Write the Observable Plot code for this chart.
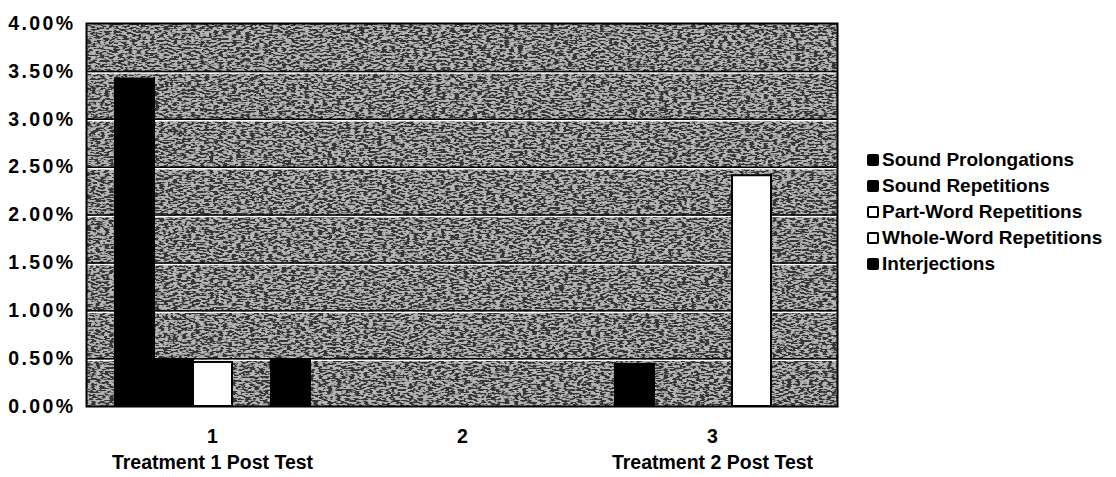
<!DOCTYPE html>
<html><head><meta charset="utf-8">
<script src="https://cdn.jsdelivr.net/npm/d3@7"></script>
<script src="https://cdn.jsdelivr.net/npm/@observablehq/plot@0.6"></script>
<style>
body{margin:0;background:#fff;font-family:"Liberation Sans",Arial,sans-serif;}
#wrap{position:relative;width:1116px;height:477px;}
#bg,#chart{position:absolute;left:0;top:0;}
#bg svg g[aria-label="y-axis tick label"] text{letter-spacing:2.4px;}
#legend{position:absolute;left:867px;top:147px;font-weight:bold;font-size:19px;color:#000;}
.row{display:flex;align-items:center;height:26px;white-space:nowrap;}
.sw{width:12px;height:12px;border:2px solid #000;border-radius:2px;margin-right:3px;box-sizing:border-box;}
</style></head><body><div id="wrap"><div id="bg"></div><div id="chart"></div><div id="legend"></div></div>
<script>
const groups = ["1", "2", "3"];
const groupNames = ["Treatment 1 Post Test", "", "Treatment 2 Post Test"];
const series = ["Sound Prolongations", "Sound Repetitions", "Part-Word Repetitions", "Whole-Word Repetitions", "Interjections"];
const soundProlongations = [0.0342, 0, 0.0044];
const soundRepetitions = [0.0049, 0, 0];
const partWordRepetitions = [0.0046, 0, 0];
const wholeWordRepetitions = [0, 0, 0.0241];
const interjections = [0.0049, 0, 0];
const seriesFill = ["#000000", "#000000", "#ffffff", "#ffffff", "#000000"];
const yTicks = [0, 0.005, 0.01, 0.015, 0.02, 0.025, 0.03, 0.035, 0.04];

const values = [soundProlongations, soundRepetitions, partWordRepetitions, wholeWordRepetitions, interjections];
const data = series.flatMap((s, si) => groups.map((g, gi) => ({group: g, series: s, value: values[si][gi]})));
const labels = groups.map((g, i) => ({group: g, name: groupNames[i]}));
const gridTicks = yTicks.filter(t => t > 0 && t < 0.04);

const common = {
  width: 850, height: 477,
  marginLeft: 86, marginRight: 13, marginTop: 23, marginBottom: 71,
  style: {fontFamily: "'Liberation Sans', Arial, sans-serif", fontWeight: "bold", fontSize: "19.5px", color: "#000", background: "transparent"}
};

// background: plot area, gridlines, y axis
const bg = Plot.plot({
  ...common,
  x: {domain: [0, 1], axis: null},
  y: {domain: [0, 0.04], ticks: yTicks, tickFormat: d3.format(".2%"), label: null, tickSize: 0, tickPadding: 11},
  marks: [
    Plot.frame({fill: "#6c6c6c"}),
    Plot.ruleY(gridTicks, {stroke: "#ffffff", strokeWidth: 1.5, dy: 1.5}),
    Plot.ruleY(gridTicks, {stroke: "#000000", strokeWidth: 1.5}),
    Plot.frame({stroke: "#000", strokeWidth: 2})
  ]
});
// speckled texture over the plot area (visual only)
(function addTexture(svg) {
  const ns = "http://www.w3.org/2000/svg";
  const defs = document.createElementNS(ns, "defs");
  defs.innerHTML = '<filter id="speckle" x="0" y="0" width="1" height="1">' +
    '<feTurbulence type="fractalNoise" baseFrequency="0.22 0.55" numOctaves="2" seed="5"/>' +
    '<feColorMatrix type="matrix" values="8 0 0 0 -3.6  8 0 0 0 -3.6  8 0 0 0 -3.6  0 0 0 0 1"/>' +
    '</filter>';
  svg.insertBefore(defs, svg.firstChild);
  const rect = svg.querySelector('[aria-label="frame"]');
  if (rect) {
    const tex = rect.cloneNode(true);
    tex.setAttribute("fill", "#fff");
    tex.setAttribute("filter", "url(#speckle)");
    tex.setAttribute("opacity", "0.5");
    rect.after(tex);
  }
})(bg);
document.getElementById("bg").appendChild(bg);

// bars, faceted by group
const chart = Plot.plot({
  ...common,
  fx: {domain: groups, paddingInner: 0.21, paddingOuter: 0.105, label: null, axis: "bottom", tickSize: 0, tickPadding: 23},
  x: {domain: series, padding: 0, axis: null},
  y: {domain: [0, 0.04], axis: null},
  color: {domain: series, range: seriesFill},
  marks: [
    Plot.barY(data, {fx: "group", x: "series", y: "value", fill: "series", stroke: "#000", strokeWidth: 2, filter: d => d.value > 0}),
    Plot.text(labels, {fx: "group", text: "name", frameAnchor: "bottom", dy: 62, fontSize: 19.5, fontWeight: "bold"})
  ]
});
document.getElementById("chart").appendChild(chart);

const legend = document.getElementById("legend");
series.forEach((s, i) => {
  const row = document.createElement("div");
  row.className = "row";
  const sw = document.createElement("div");
  sw.className = "sw";
  sw.style.background = seriesFill[i];
  row.appendChild(sw);
  const t = document.createElement("span");
  t.textContent = s;
  row.appendChild(t);
  legend.appendChild(row);
});
</script></body></html>
